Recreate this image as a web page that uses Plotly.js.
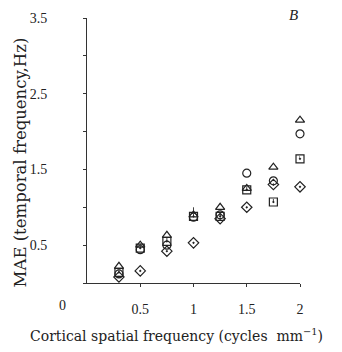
<!DOCTYPE html>
<html>
<head>
<meta charset="utf-8">
<script src="https://cdn.plot.ly/plotly-3.0.1.min.js"></script>
<style>html,body{margin:0;padding:0;background:#fff;}#chart{width:342px;height:352px;}</style>
</head>
<body>
<div id="chart"></div>
<script>
const xVals = [0.3, 0.5, 0.75, 1.0, 1.25, 1.5, 1.75, 2.0];
const squares   = [0.14, 0.46, 0.55, 0.88, 0.88, 1.23, 1.07, 1.64];
const triangles = [0.22, 0.50, 0.63, 0.90, 1.00, 1.25, 1.53, 2.15];
const circles   = [0.12, 0.44, 0.50, 0.87, 0.90, 1.45, 1.35, 1.97];
const diamonds  = [0.08, 0.16, 0.42, 0.53, 0.85, 1.00, 1.30, 1.27];
const squareErr = [0.05, 0.06, 0.05, 0.12, 0.04, 0.04, 0.04, 0.04];
const yTickVals = [0.5, 1.5, 2.5, 3.5];
const yTickText = ['0.5', '1.5', '2.5', '3.5'];
const xTickVals = [0.5, 1, 1.5, 2];
const xTickText = ['0.5', '1', '1.5', '2'];

const FONT = 'Liberation Serif, Times New Roman, serif';
const TFONT = 'DejaVu Serif, serif';
function series(y, sym, err) {
  const t = {
    x: xVals, y: y, type: 'scatter', mode: 'markers',
    marker: {symbol: sym, size: 8, color: '#222', line: {width: 1.2, color: '#222'}},
    showlegend: false, cliponaxis: false
  };
  if (err) t.error_y = {type: 'data', array: err, arrayminus: err.map(()=>0), color: '#444', thickness: 1, width: 0};
  return t;
}
const data = [
  series(diamonds, 'diamond-open-dot'),
  series(circles, 'circle-open'),
  series(squares, 'square-open-dot', squareErr),
  series(triangles, 'triangle-up-open')
];
const layout = {
  width: 342, height: 352,
  margin: {l: 87, r: 42, t: 18, b: 69},
  paper_bgcolor: '#fff', plot_bgcolor: '#fff',
  font: {family: FONT, color: '#222', size: 14},
  xaxis: {
    range: [0, 2], showgrid: false, zeroline: false,
    showline: true, linecolor: '#333', linewidth: 1,
    tickvals: xTickVals, ticktext: xTickText,
    ticks: 'outside', ticklen: 3, tickcolor: '#333',
    ticklabelstandoff: 10,
    tickfont: {family: FONT, size: 14, color: '#222'}
  },
  yaxis: {
    range: [0, 3.5], showgrid: false, zeroline: false,
    showline: true, linecolor: '#333', linewidth: 1,
    tickvals: yTickVals, ticktext: yTickText,
    ticks: 'outside', ticklen: 3, tickcolor: '#333',
    minor: {dtick: 0.5, tick0: 0, ticks: 'outside', ticklen: 3, tickcolor: '#333', showgrid: false},
    ticklabelstandoff: 33,
    tickfont: {family: FONT, size: 14, color: '#222'}
  },
  annotations: [
    {text: '0', xref: 'x', yref: 'paper', x: 0, y: 0, xshift: -25, yshift: -22, yanchor: 'middle',
     showarrow: false, font: {family: FONT, size: 14, color: '#222'}},
    {text: 'Cortical spatial frequency (cycles  mm<sup>−1</sup>)', xref: 'paper', yref: 'paper',
     x: 0.42, xanchor: 'center', y: 0, yanchor: 'middle', yshift: -52, showarrow: false,
     font: {family: TFONT, size: 14, color: '#222'}},
    {text: 'MAE (temporal frequency,Hz)', xref: 'paper', yref: 'paper', textangle: -90,
     x: 0, xanchor: 'center', xshift: -67, y: 0.455, yanchor: 'middle', showarrow: false,
     font: {family: TFONT, size: 16.5, color: '#222'}},
    {text: '<i>B</i>', xref: 'paper', yref: 'paper', x: 1, xanchor: 'right', y: 1, yanchor: 'middle', yshift: 3,
     showarrow: false, font: {family: FONT, size: 15, color: '#222'}}
  ]
};
Plotly.newPlot('chart', data, layout, {displayModeBar: false, staticPlot: true});
</script>
</body>
</html>
